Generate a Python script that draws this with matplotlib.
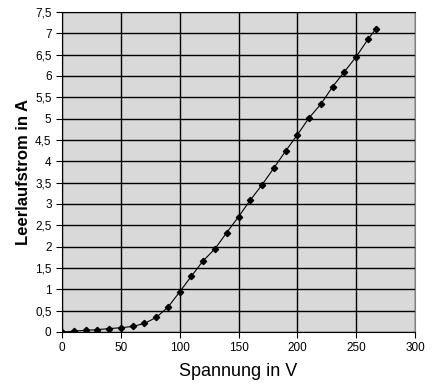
import numpy as np
import matplotlib.pyplot as plt
from matplotlib.ticker import MultipleLocator, FuncFormatter

plt.rcParams['font.family'] = ['Liberation Sans', 'DejaVu Sans']

spannung = [0, 10, 20, 30, 40, 50, 60, 70, 80, 90, 100, 110, 120, 130, 140,
            150, 160, 170, 180, 190, 200, 210, 220, 230, 240, 250, 260, 267]
strom = [0.0, 0.02, 0.04, 0.055, 0.08, 0.1, 0.13, 0.2, 0.34, 0.58, 0.94, 1.31,
         1.67, 1.95, 2.33, 2.70, 3.09, 3.45, 3.84, 4.24, 4.62, 5.02, 5.34,
         5.75, 6.10, 6.45, 6.86, 7.11]

fig = plt.figure(figsize=(4.33, 3.86), dpi=100)
ax = fig.add_axes([62/433, 1-332/386, 353/433, 320/386])
ax.set_facecolor('#d9d9d9')

ax.plot(spannung, strom, color='black', lw=0.8, marker='D', ms=3.2,
        markerfacecolor='black', markeredgecolor='black')

ax.set_xlim(0, 300)
ax.set_ylim(0, 7.5)
ax.xaxis.set_major_locator(MultipleLocator(50))
ax.yaxis.set_major_locator(MultipleLocator(0.5))
ax.yaxis.set_major_formatter(FuncFormatter(lambda v, p: ('%g' % v).replace('.', ',')))
ax.grid(True, color='black', lw=1)
ax.set_axisbelow(True)
for s in ax.spines.values():
    s.set_color('black')
ax.spines['right'].set_color('#808080')
ax.tick_params(labelsize=8.5, length=4, color='black')

ax.set_xlabel("Spannung in V", fontsize=13, labelpad=6)
ax.set_ylabel("Leerlaufstrom in A", fontsize=12, fontweight='bold', labelpad=3)

fig.savefig('out.png', dpi=100)
